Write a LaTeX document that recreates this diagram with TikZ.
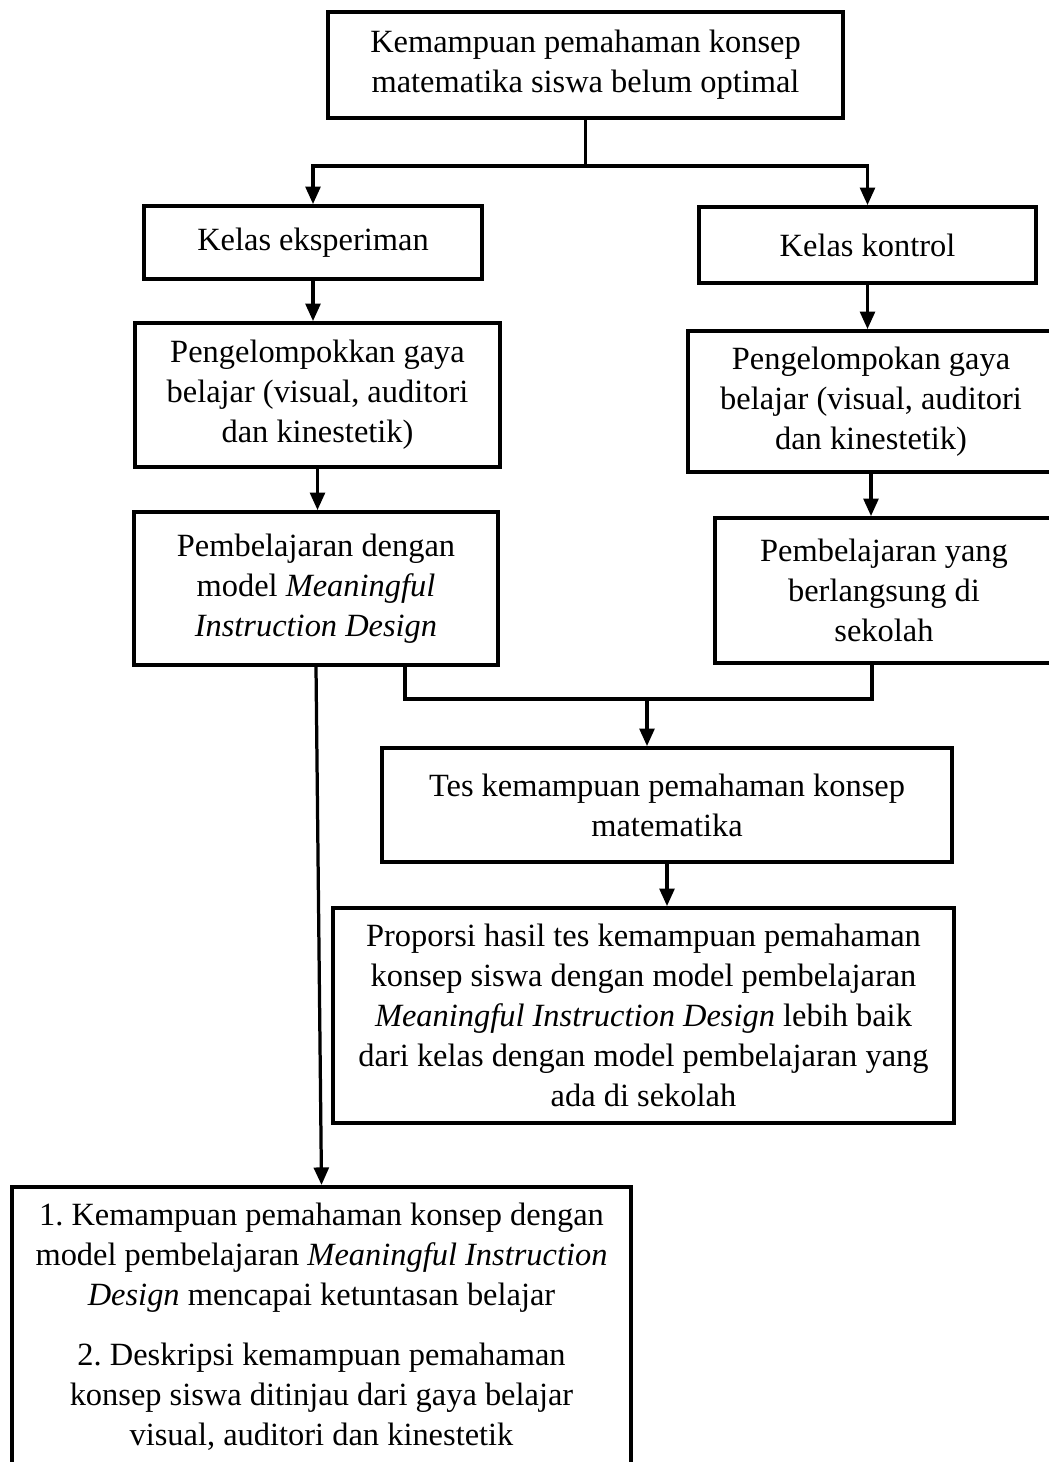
\documentclass[tikz,border=0pt]{standalone}
\usepackage{fontspec}
\setmainfont{Liberation Serif}
\usetikzlibrary{arrows.meta}
\newdimen\pix
\pix=0.37pt
\tikzset{box/.style = {draw, line width = 1.4pt, align = center, inner sep = 0,
    font = \fontsize{12}{14.8}\selectfont\frenchspacing}}
\tikzset{conn/.style = {line width = 1.2pt}}
\tikzset{arr/.style = {conn, -{Triangle[length = 6.5pt, width = 5.5pt]}}}

\begin{document}
\begin{tikzpicture}[x = 0.37pt, y = -0.37pt]
    \useasboundingbox (0, 0) rectangle (1049, 1462);
    \node [box, minimum width = 515\pix, minimum height = 106\pix] (masalah) at (585.5, 65)
      {Kemampuan pemahaman konsep\\ matematika siswa belum optimal};
    \node [box, minimum width = 338\pix, minimum height = 73\pix] (eksp) at (313, 242.5)
      {Kelas eksperiman};
    \node [box, minimum width = 337\pix, minimum height = 76\pix] (kontrol) at (867.5, 245)
      {Kelas kontrol};
    \node [box, minimum width = 365\pix, minimum height = 144\pix] (kelompokA) at (317.5, 395)
      {Pengelompokkan gaya\\ belajar (visual, auditori\\ dan kinestetik)};
    \node [box, minimum width = 364\pix, minimum height = 153\pix] (belajarA) at (316, 588.5)
      {Pembelajaran dengan\\ model \textit{Meaningful}\\ \textit{Instruction Design}};
    \node [box, minimum width = 366\pix, minimum height = 141\pix] (kelompokB) at (871, 401.5)
      {Pengelompokan gaya\\ belajar (visual, auditori\\ dan kinestetik)};
    \node [box, minimum width = 338\pix, minimum height = 145\pix] (belajarB) at (884, 590.5)
      {Pembelajaran yang\\ berlangsung di\\ sekolah};
    \node [box, minimum width = 570\pix, minimum height = 114\pix] (tes) at (667, 805)
      {Tes kemampuan pemahaman konsep\\ matematika};
    \node [box, minimum width = 621\pix, minimum height = 215\pix] (proporsi) at (643.5, 1015.5)
      {Proporsi hasil tes kemampuan pemahaman\\ konsep siswa dengan model pembelajaran\\
       \textit{Meaningful Instruction Design} lebih baik\\ dari kelas dengan model pembelajaran yang\\
       ada di sekolah};
    \node [box, minimum width = 619\pix, inner ysep = 6pt, anchor = north] (hasil) at (321.5, 1185)
      {1. Kemampuan pemahaman konsep dengan\\ model pembelajaran \textit{Meaningful Instruction}\\
       \textit{Design} mencapai ketuntasan belajar\\[7.4pt]
       2. Deskripsi kemampuan pemahaman\\ konsep siswa ditinjau dari gaya belajar\\
       visual, auditori dan kinestetik\rule[-20pt]{0pt}{0pt}};
    % arrows
    \draw [conn] (masalah.south) -- ++(0, 46) coordinate (cabang);
    \draw [arr] (cabang) -| (eksp.north);
    \draw [arr] (cabang) -| (kontrol.north);
    \draw [arr] (eksp.south) -- (eksp.south |- kelompokA.north);
    \draw [arr] (kelompokA.south) -- (kelompokA.south |- belajarA.north);
    \draw [arr] (kontrol.south) -- (kontrol.south |- kelompokB.north);
    \draw [arr] (kelompokB.south) -- (kelompokB.south |- belajarB.north);
    \coordinate (gabungA) at (405, 665);
    \coordinate (gabungB) at (872, 665);
    \coordinate (gabung) at (647, 699);
    \draw [conn] (gabungA) |- (gabung) -| (gabungB);
    \draw [arr] (gabung) -- (gabung |- tes.north);
    \draw [arr] (tes.south) -- (tes.south |- proporsi.north);
    \draw [arr] (belajarA.south) -- (hasil.north);
\end{tikzpicture}
\end{document}
